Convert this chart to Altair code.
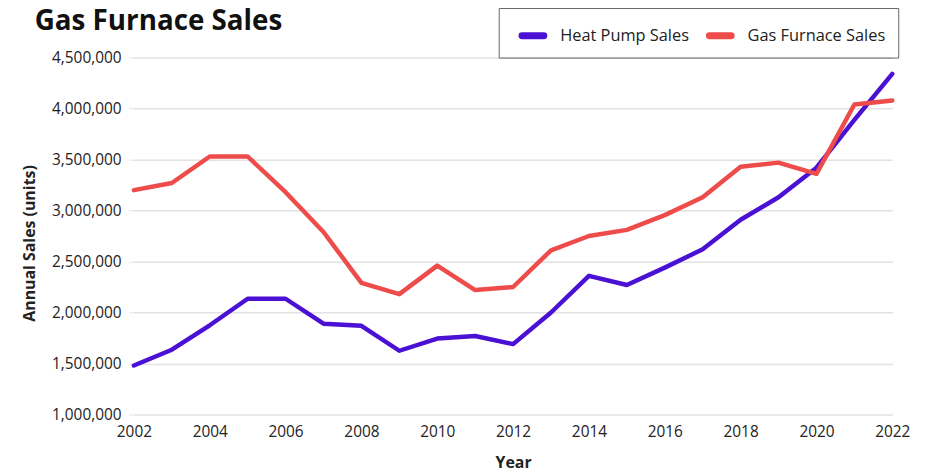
import altair as alt
import pandas as pd

years = list(range(2002, 2023))
heat_pump = [1480000, 1635000, 1875000, 2135000, 2135000, 1890000, 1870000, 1625000,
             1745000, 1770000, 1690000, 2000000, 2360000, 2270000, 2440000, 2620000,
             2910000, 3130000, 3420000, 3890000, 4340000]
gas_furnace = [3200000, 3270000, 3530000, 3530000, 3180000, 2790000, 2290000, 2180000,
               2460000, 2220000, 2250000, 2610000, 2750000, 2810000, 2955000, 3130000,
               3430000, 3470000, 3360000, 4040000, 4080000]
series_names = ["Heat Pump Sales", "Gas Furnace Sales"]
series_colors = ["#4a10d4", "#ee4b4b"]
y_ticks = [1000000, 1500000, 2000000, 2500000, 3000000, 3500000, 4000000, 4500000]
x_ticks = list(range(2002, 2023, 2))

rows = []
for y, h, g in zip(years, heat_pump, gas_furnace):
    rows.append({"Year": y, "Sales": h, "Series": series_names[0]})
    rows.append({"Year": y, "Sales": g, "Series": series_names[1]})
df = pd.DataFrame(rows)

FONT = "Open Sans"
CAPSULE = ("M-0.863,-0.137 H0.863 A0.137,0.137 0 0 1 0.863,0.137 "
           "H-0.863 A0.137,0.137 0 0 1 -0.863,-0.137 Z")

chart = alt.Chart(df).mark_line(strokeWidth=4.5, strokeCap="round", strokeJoin="round").encode(
    x=alt.X("Year:Q",
            scale=alt.Scale(domain=[2002, 2022], nice=False, zero=False),
            axis=alt.Axis(values=x_ticks, format="d", grid=False, domain=False, ticks=False,
                          labelFlush=False, labelPadding=10, labelFontSize=15.5,
                          labelColor="#222", title="Year", titleFontSize=16,
                          titleFontWeight="bold", titleColor="#222", titlePadding=15,
                          labelFont=FONT, titleFont=FONT)),
    y=alt.Y("Sales:Q",
            scale=alt.Scale(domain=[1000000, 4500000], nice=False, zero=False),
            axis=alt.Axis(values=y_ticks, format=",d", grid=True, gridColor="#e2e2e2",
                          gridWidth=1.5, domain=False, ticks=True, tickColor="#e2e2e2",
                          tickSize=5, labelPadding=8, labelFontSize=15.5, labelColor="#222",
                          title="Annual Sales (units)", titleFontSize=16,
                          titleFontWeight="bold", titleColor="#222", titlePadding=14,
                          titleY=187, labelFont=FONT, titleFont=FONT)),
    color=alt.Color("Series:N",
                    scale=alt.Scale(domain=series_names, range=series_colors),
                    sort=series_names,
                    legend=alt.Legend(title=None, orient="none", legendX=368, legendY=-50,
                                      direction="horizontal", symbolType=CAPSULE,
                                      symbolStrokeWidth=3.5, symbolSize=650,
                                      symbolOffset=7,
                                      labelFontSize=16.5, labelFont=FONT, labelColor="#222",
                                      strokeColor="#666", padding=13, columnPadding=10,
                                      labelOffset=13)),
).properties(
    width=765,
    height=360,
    title=alt.TitleParams("Gas Furnace Sales", anchor="start", frame="group",
                          fontSize=28, font=FONT, fontWeight="bold", color="#111",
                          baseline="alphabetic", dx=-100, dy=61, offset=10),
    autosize=alt.AutoSizeParams(type="none"),
    padding={"left": 127, "top": 48, "right": 33, "bottom": 56},
).configure_view(stroke=None)

chart.save("out.html", embed_options={"renderer": "svg", "actions": False})
